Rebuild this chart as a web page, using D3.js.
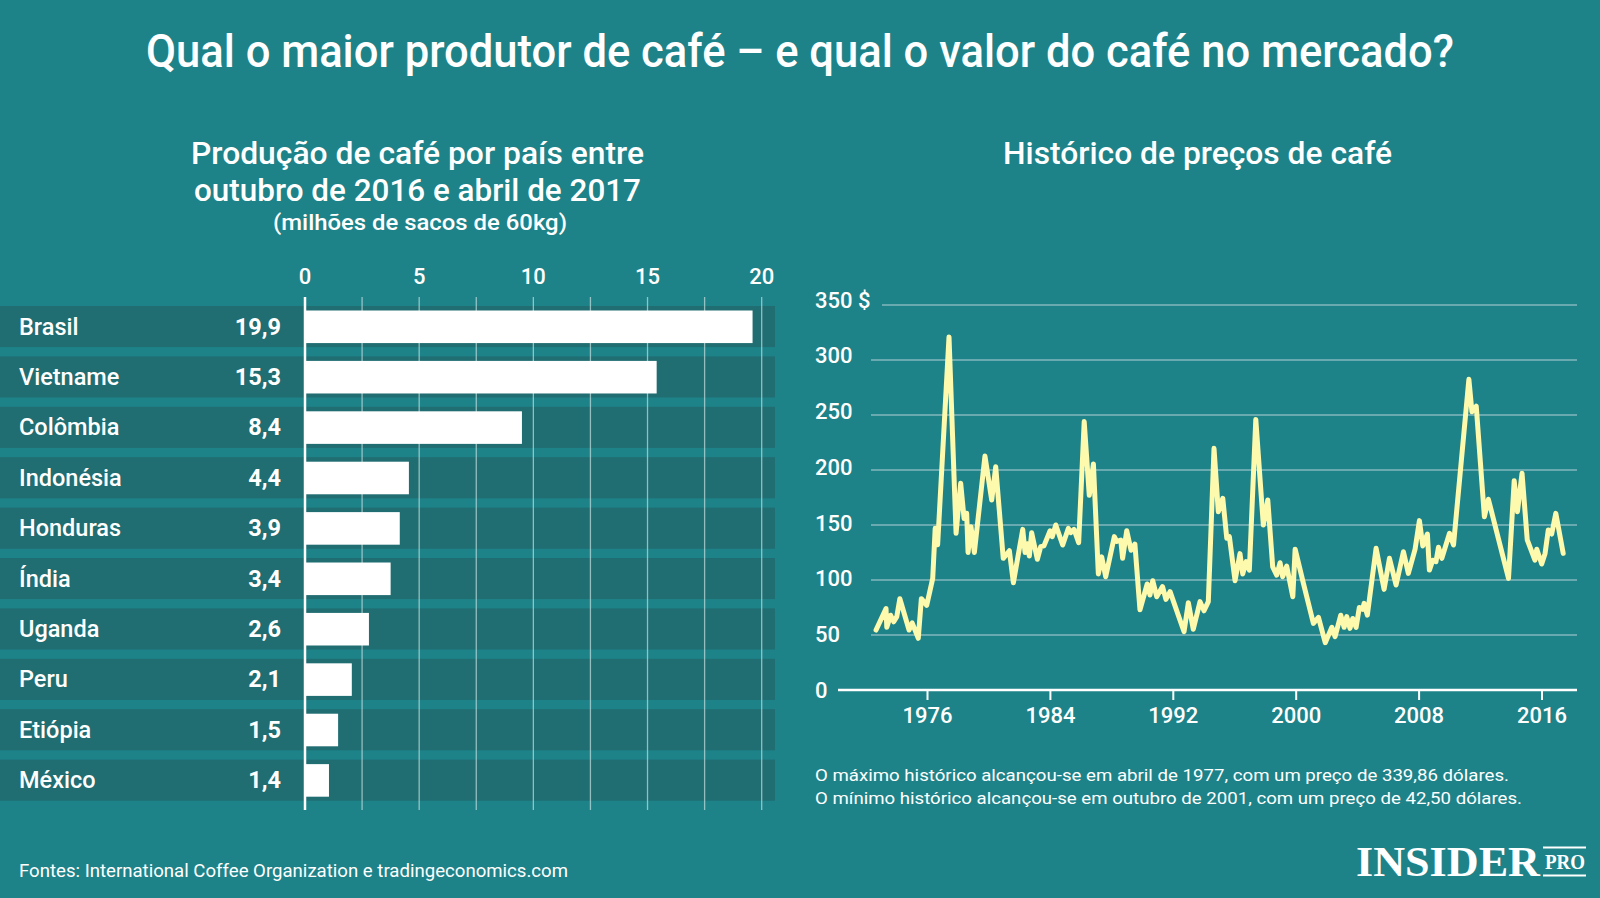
<!DOCTYPE html>
<html>
<head>
<meta charset="utf-8">
<script src="https://cdn.jsdelivr.net/npm/d3@7"></script>
<style>
  html, body { margin: 0; padding: 0; background: #1d8389; }
  svg { display: block; }
  text { font-family: Roboto, "Noto Sans", sans-serif; fill: #ffffff; }
</style>
</head>
<body>
<svg id="chart" width="1600" height="898"></svg>
<script>
// ---------------- DATA ----------------
const countries = ["Brasil", "Vietname", "Colômbia", "Indonésia", "Honduras", "Índia", "Uganda", "Peru", "Etiópia", "México"];
const valueLabels = ["19,9", "15,3", "8,4", "4,4", "3,9", "3,4", "2,6", "2,1", "1,5", "1,4"];
// bar lengths as drawn in the picture (millions of 60kg bags)
const barValues = [19.6, 15.4, 9.5, 4.55, 4.15, 3.75, 2.8, 2.05, 1.45, 1.05];
const barTicks = [0, 5, 10, 15, 20];
const barGrid = [2.5, 5, 7.5, 10, 12.5, 15, 17.5, 20];

const priceYears = [1972.65,1973.3,1973.35,1973.6,1973.8,1974.0,1974.2,1974.8,1975.0,1975.4,1975.6,1975.95,1976.34,1976.5,1976.66,1977.4,1977.86,1978.16,1978.38,1978.55,1978.64,1978.83,1979.05,1979.74,1980.18,1980.44,1980.93,1981.33,1981.59,1982.2,1982.35,1982.5,1982.63,1982.78,1983.15,1983.37,1983.58,1983.98,1984.12,1984.35,1984.8,1985.17,1985.32,1985.54,1985.84,1986.2,1986.53,1986.8,1987.12,1987.34,1987.6,1988.16,1988.32,1988.58,1988.7,1988.97,1989.25,1989.5,1989.83,1990.3,1990.48,1990.66,1990.92,1991.3,1991.52,1991.79,1992.7,1992.98,1993.3,1993.74,1994.0,1994.28,1994.65,1994.93,1995.22,1995.48,1995.65,1996.02,1996.34,1996.52,1996.74,1996.95,1997.37,1997.86,1998.15,1998.47,1998.73,1998.95,1999.12,1999.38,1999.78,1999.93,2000.47,2001.12,2001.45,2001.89,2002.32,2002.53,2002.9,2003.12,2003.29,2003.5,2003.68,2003.9,2004.11,2004.33,2004.42,2004.63,2005.2,2005.72,2006.07,2006.5,2006.98,2007.3,2007.74,2008.02,2008.24,2008.54,2008.67,2008.89,2009.1,2009.26,2009.48,2009.98,2010.24,2011.24,2011.44,2011.72,2012.25,2012.51,2013.82,2014.19,2014.4,2014.7,2015.04,2015.54,2015.66,2015.98,2016.2,2016.41,2016.63,2016.9,2017.38];
const priceValues = [54.5,74,57,68,62,66.7,83,54.5,61,47,83,77,101.5,147,132,321,142.4,188,156,160.6,125,148.5,125,212.7,172.7,203,119.7,126.6,97.5,146,125,133,121.8,143,118.8,130.3,131,144.8,139.4,150,131.8,147,143,146,134,244,177,205.5,105.5,121,103,139.4,135,136.4,119.7,144.8,127,132.7,73,96.4,86.4,99.4,84.8,94,82.4,89.4,53,79.4,55.2,80.3,72,80.3,219.7,162,174.3,138,139.4,99.4,124,105.5,116.7,109,246,150,172.7,112,104.5,115.7,103,112.7,84.8,128,97,60.6,66,43,57,48.5,68,57,66.7,56,65,57,75,73.3,78.8,68,128.8,91.5,119.7,95.5,125.7,106,128,154,131,141.8,109,118,116.7,129.7,119.7,142.4,131.8,282.4,253,258,157.5,173.4,101.5,190.3,162,197,136.4,118,128,114.5,124.2,145.5,141.8,160.6,124.2];
const priceTicksY = [0, 50, 100, 150, 200, 250, 300, 350];
const priceTicksX = [1976, 1984, 1992, 2000, 2008, 2016];

// ---------------- TEXTS ----------------
const title = "Qual o maior produtor de café – e qual o valor do café no mercado?";
const leftTitle = ["Produção de café por país entre", "outubro de 2016 e abril de 2017"];
const leftUnit = "(milhões de sacos de 60kg)";
const rightTitle = "Histórico de preços de café";
const notes = ["O máximo histórico alcançou-se em abril de 1977, com um preço de 339,86 dólares.",
               "O mínimo histórico alcançou-se em outubro de 2001, com um preço de 42,50 dólares."];
const source = "Fontes: International Coffee Organization e tradingeconomics.com";

// ---------------- DRAW ----------------
const svg = d3.select("#chart");
svg.append("rect").attr("width", 1600).attr("height", 898).attr("fill", "#1d8389");

function fitText(sel, w) {
  sel.attr("textLength", w).attr("lengthAdjust", "spacingAndGlyphs");
}

// Title
svg.append("text").attr("x", 800).attr("y", 67).attr("text-anchor", "middle")
  .attr("font-size", 46).attr("font-weight", 500).text(title).call(fitText, 1308);

// Left subtitles
svg.append("text").attr("x", 417.5).attr("y", 164).attr("text-anchor", "middle")
  .attr("font-size", 31).attr("font-weight", 500).text(leftTitle[0]).call(fitText, 453);
svg.append("text").attr("x", 417.5).attr("y", 201).attr("text-anchor", "middle")
  .attr("font-size", 31).attr("font-weight", 500).text(leftTitle[1]).call(fitText, 447);
svg.append("text").attr("x", 420).attr("y", 230).attr("text-anchor", "middle")
  .attr("font-size", 22).attr("font-weight", 500).text(leftUnit).call(fitText, 294);

// Right subtitle
svg.append("text").attr("x", 1197.5).attr("y", 164).attr("text-anchor", "middle")
  .attr("font-size", 31).attr("font-weight", 500).text(rightTitle).call(fitText, 389);

// ----- Bar chart -----
const xBar = d3.scaleLinear().domain([0, 20]).range([305, 761.7]);
const yBand = d3.scaleBand().domain(countries).range([306, 800.7]).paddingInner(0.185).paddingOuter(0);

const gBar = svg.append("g");
gBar.selectAll("rect.band").data(countries).join("rect")
  .attr("class", "band")
  .attr("x", 0).attr("width", 775)
  .attr("y", d => yBand(d)).attr("height", yBand.bandwidth())
  .attr("fill", "#206d72");

gBar.selectAll("line.grid").data(barGrid).join("line")
  .attr("class", "grid")
  .attr("x1", d => xBar(d)).attr("x2", d => xBar(d))
  .attr("y1", 297).attr("y2", 810)
  .attr("stroke", "#b9dadb").attr("stroke-opacity", 0.75).attr("stroke-width", 1.3);

gBar.selectAll("rect.bar").data(barValues).join("rect")
  .attr("class", "bar")
  .attr("x", xBar(0)).attr("width", d => xBar(d) - xBar(0))
  .attr("y", (d, i) => yBand(countries[i]) + 4.5).attr("height", yBand.bandwidth() - 8.5)
  .attr("fill", "#ffffff");

gBar.append("line").attr("x1", xBar(0)).attr("x2", xBar(0)).attr("y1", 297).attr("y2", 810)
  .attr("stroke", "#ffffff").attr("stroke-width", 2.5);

gBar.selectAll("text.tick").data(barTicks).join("text")
  .attr("class", "tick")
  .attr("x", d => xBar(d)).attr("y", 284).attr("text-anchor", "middle")
  .attr("font-size", 22).attr("font-weight", 500).text(d => d);

gBar.selectAll("text.country").data(countries).join("text")
  .attr("class", "country")
  .attr("x", 19).attr("y", d => yBand(d) + yBand.bandwidth() / 2 + 8)
  .attr("font-size", 23.5).attr("font-weight", 500).text(d => d);

gBar.selectAll("text.val").data(valueLabels).join("text")
  .attr("class", "val")
  .attr("x", 281).attr("y", (d, i) => yBand(countries[i]) + yBand.bandwidth() / 2 + 8)
  .attr("text-anchor", "end")
  .attr("font-size", 23.5).attr("font-weight", 700).text(d => d);

// ----- Line chart -----
const xLine = d3.scaleLinear().domain([1976, 2016]).range([927.5, 1542]);
const yLine = d3.scaleLinear().domain([0, 350]).range([690, 305]);
const yLabel = d3.scaleLinear().domain([0, 350]).range([690, 299.5]);

const gLine = svg.append("g");
gLine.selectAll("line.ygrid").data(priceTicksY.filter(d => d > 0)).join("line")
  .attr("class", "ygrid")
  .attr("x1", d => d === 350 ? 882 : 871).attr("x2", 1577)
  .attr("y1", d => yLine(d)).attr("y2", d => yLine(d))
  .attr("stroke", "#9cc6c8").attr("stroke-opacity", 0.8).attr("stroke-width", 1.6);

gLine.selectAll("text.ylab").data(priceTicksY).join("text")
  .attr("class", "ylab")
  .attr("x", 815).attr("y", d => yLabel(d) + 8)
  .attr("font-size", 22).attr("font-weight", 500)
  .text(d => d === 350 ? "350 $" : d);

gLine.append("line").attr("x1", 838).attr("x2", 1577).attr("y1", yLine(0)).attr("y2", yLine(0))
  .attr("stroke", "#ffffff").attr("stroke-width", 2.5);

gLine.selectAll("line.xtick").data(priceTicksX).join("line")
  .attr("class", "xtick")
  .attr("x1", d => xLine(d)).attr("x2", d => xLine(d))
  .attr("y1", yLine(0)).attr("y2", yLine(0) + 10)
  .attr("stroke", "#ffffff").attr("stroke-width", 2);

gLine.selectAll("text.xlab").data(priceTicksX).join("text")
  .attr("class", "xlab")
  .attr("x", d => xLine(d)).attr("y", 723).attr("text-anchor", "middle")
  .attr("font-size", 22).attr("font-weight", 500).text(d => d);

const lineGen = d3.line().x((d, i) => xLine(priceYears[i])).y(d => yLine(d));
gLine.append("path").datum(priceValues)
  .attr("d", lineGen)
  .attr("fill", "none").attr("stroke", "#fdf9ad").attr("stroke-width", 5)
  .attr("stroke-linejoin", "round").attr("stroke-linecap", "round");

// Notes
svg.append("text").attr("x", 815).attr("y", 781).attr("font-size", 17).attr("font-weight", 400)
  .text(notes[0]).call(fitText, 694);
svg.append("text").attr("x", 815).attr("y", 803.5).attr("font-size", 17).attr("font-weight", 400)
  .text(notes[1]).call(fitText, 707);

// Source
svg.append("text").attr("x", 19).attr("y", 877).attr("font-size", 18).attr("font-weight", 400)
  .text(source).call(fitText, 549);

// Logo
svg.append("text").attr("x", 1356).attr("y", 876)
  .style("font-family", "'Liberation Serif', 'DejaVu Serif', serif")
  .attr("font-size", 43).attr("font-weight", 700).text("INSIDER").call(fitText, 184);
svg.append("text").attr("x", 1545).attr("y", 869)
  .style("font-family", "'Liberation Serif', 'DejaVu Serif', serif")
  .attr("font-size", 21).attr("font-weight", 700).text("PRO").call(fitText, 40);
svg.append("line").attr("x1", 1543).attr("x2", 1586).attr("y1", 847.5).attr("y2", 847.5)
  .attr("stroke", "#ffffff").attr("stroke-width", 2);
svg.append("line").attr("x1", 1543).attr("x2", 1586).attr("y1", 875.5).attr("y2", 875.5)
  .attr("stroke", "#ffffff").attr("stroke-width", 2);
</script>
</body>
</html>
